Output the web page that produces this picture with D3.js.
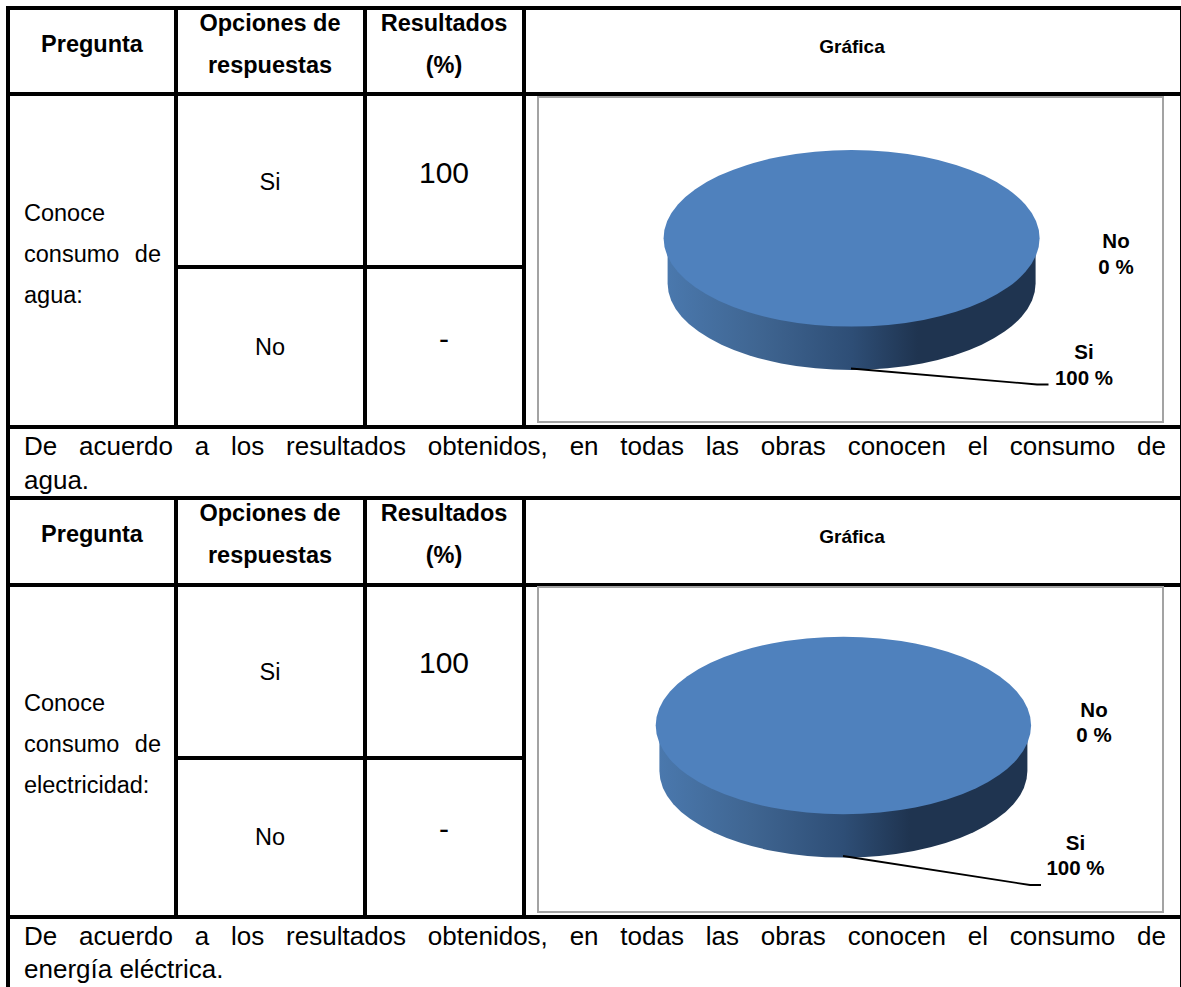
<!DOCTYPE html>
<html lang="es">
<head>
<meta charset="utf-8">
<title>Consumo de agua y electricidad</title>
<script src="https://cdn.jsdelivr.net/npm/d3@7/dist/d3.min.js"></script>
<style>
html,body{margin:0;padding:0;background:#fff}
svg{display:block}
text{font-family:"Liberation Sans",Arial,sans-serif;fill:#000}
</style>
</head>
<body>
<svg id="c" width="1181" height="987"></svg>
<script>
// Survey answers shown in each block
const answers = ["Si", "No"];
const waterShares = [100, 0];
const powerShares = [100, 0];
const resultLabels = ["100", "-"];
const headerColumns = [["Pregunta"], ["Opciones de", "respuestas"], ["Resultados", "(%)"], ["Gráfica"]];
const waterQuestion = ["Conoce", "consumo de", "agua:"];
const powerQuestion = ["Conoce", "consumo de", "electricidad:"];
const waterNote = ["De acuerdo a los resultados obtenidos, en todas las obras conocen el consumo de", "agua."];
const powerNote = ["De acuerdo a los resultados obtenidos, en todas las obras conocen el consumo de", "energía eléctrica."];

const svg = d3.select("#c");
const columnX = [8, 176, 365, 524, 1180];
const bodySize = 23.5, chartHeadSize = 19, noteSize = 26, tagSize = 20.5;

const gradient = svg.append("defs").append("linearGradient")
  .attr("id", "rim").attr("x1", 0).attr("x2", 1).attr("y1", 0).attr("y2", 0);
[[0, "#4a78ad"], [0.25, "#3f6591"], [0.5, "#2e4e76"], [0.68, "#1f3450"], [1, "#1f3450"]]
  .forEach(([o, c]) => gradient.append("stop").attr("offset", o).attr("stop-color", c));

function rule(x1, y1, x2, y2, w) {
  svg.append("line").attr("x1", x1).attr("y1", y1).attr("x2", x2).attr("y2", y2)
    .attr("stroke", "#000").attr("stroke-width", w);
}

function label(x, y, s, size, opts = {}) {
  return svg.append("text").attr("x", x).attr("y", y).text(s)
    .attr("font-size", size)
    .attr("font-weight", opts.bold ? 700 : 400)
    .attr("text-anchor", opts.anchor || "middle");
}

// A left-aligned line stretched to a fixed width with extra word spacing
function justified(x, y, s, size, width) {
  const t = label(x, y, s, size, { anchor: "start" });
  const gaps = s.split(" ").length - 1;
  const extra = (width - t.node().getComputedTextLength()) / gaps;
  t.attr("word-spacing", extra);
}

function block(b) {
  const [top, head, split, bottom] = b.rows;

  // Table rules
  rule(6, top, 1181, top, 4);
  rule(6, head, 1181, head, 4);
  rule(6, bottom, 1181, bottom, 4);
  rule(columnX[1], top, columnX[1], bottom, 4);
  rule(columnX[2], top, columnX[2], bottom, 4);
  rule(columnX[3], top, columnX[3], bottom, 4);
  rule(columnX[1], split, columnX[3], split, 4);

  // Header cells; the chart column uses a smaller heading
  const centers = [92, 270, 444, 852];
  headerColumns.forEach((lines, i) => {
    if (i === 3) label(centers[i], top + 45, lines[0], chartHeadSize, { bold: true });
    else if (lines.length === 1) label(centers[i], top + 44, lines[0], bodySize, { bold: true });
    else lines.forEach((l, j) => label(centers[i], top + 23 + j * 42, l, bodySize, { bold: true }));
  });

  // Question and response cells
  label(24, b.question[0], b.questionLines[0], bodySize, { anchor: "start" });
  justified(24, b.question[1], b.questionLines[1], bodySize, 137);
  label(24, b.question[2], b.questionLines[2], bodySize, { anchor: "start" });
  answers.forEach((a, i) => {
    label(270, b.answerY[i], a, bodySize);
    label(444, b.resultY[i], resultLabels[i], 30);
  });

  // Chart frame
  svg.append("rect").attr("x", 538).attr("y", b.frame[0]).attr("width", 625)
    .attr("height", b.frame[1] - b.frame[0])
    .attr("fill", "#fff").attr("stroke", "#a3a3a3").attr("stroke-width", 2);

  // Tilted pie: rim first, then the top face from the pie layout
  const { cx, cy, rx, ry, rimRx, rimRy, rimCy } = b.pie;
  svg.append("path")
    .attr("d", `M${cx - rimRx},${cy}L${cx - rimRx},${rimCy}A${rimRx},${rimRy} 0 0 0 ${cx + rimRx},${rimCy}L${cx + rimRx},${cy}Z`)
    .attr("fill", "url(#rim)");
  const slices = d3.pie().sort(null)(b.values);
  const arc = d3.arc().innerRadius(0).outerRadius(1);
  svg.append("g").attr("transform", `translate(${cx},${cy}) scale(${rx},${ry})`)
    .selectAll("path").data(slices).join("path")
    .attr("d", arc).attr("fill", "#4f81bd");

  // Leader line and data labels
  svg.append("polyline").attr("points", b.leader.map(p => p.join(",")).join(" "))
    .attr("fill", "none").attr("stroke", "#000").attr("stroke-width", 1.8);
  answers.forEach((a, i) => {
    const [x, y1, y2] = b.labels[i];
    label(x, y1, a, tagSize, { bold: true });
    label(x, y2, `${b.values[i]} %`, tagSize, { bold: true });
  });

  // Conclusion under the table
  justified(24, b.noteY[0], b.note[0], noteSize, 1142);
  label(24, b.noteY[1], b.note[1], noteSize, { anchor: "start" });
}

block({
  rows: [8, 94, 267, 427], values: waterShares, questionLines: waterQuestion,
  question: [221, 262, 303], answerY: [190, 355], resultY: [183, 349],
  frame: [97, 422], note: waterNote, noteY: [455, 489],
  pie: { cx: 851.6, cy: 238.3, rx: 188, ry: 88.3, rimRx: 184, rimRy: 86.4, rimCy: 283.6 },
  leader: [[851, 368.5], [1037, 384.5], [1048.5, 384.5]],
  labels: [[1084, 359, 385], [1116, 248, 274]]
});

block({
  rows: [498, 585, 758, 917], values: powerShares, questionLines: powerQuestion,
  question: [711, 752, 793], answerY: [680, 845], resultY: [673, 839],
  frame: [587, 912], note: powerNote, noteY: [945, 978],
  pie: { cx: 843.4, cy: 725.5, rx: 187.7, ry: 88.8, rimRx: 184, rimRy: 86.6, rimCy: 771 },
  leader: [[843, 856], [1030, 885], [1041, 885]],
  labels: [[1075.5, 850, 875], [1094, 717, 742]]
});

// Outer verticals run the full page height
rule(8, 6, 8, 987, 4);
rule(1180.5, 6, 1180.5, 987, 1);
</script>
</body>
</html>
